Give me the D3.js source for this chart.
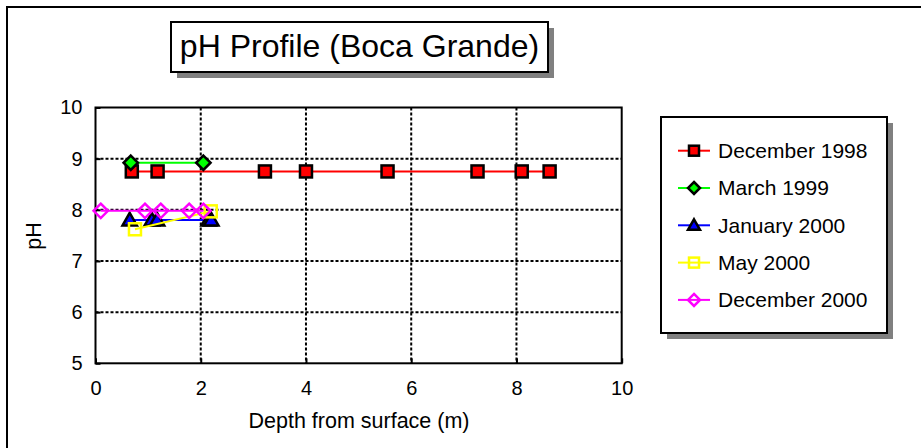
<!DOCTYPE html>
<html>
<head>
<meta charset="utf-8">
<script src="https://cdn.jsdelivr.net/npm/d3@7"></script>
<style>
  body { margin: 0; background: #fff; }
  svg { display: block; font-family: "Liberation Sans", Arial, sans-serif; }
</style>
</head>
<body>
<div id="chart"></div>
<script>
// series values (depth in m, pH)
const seriesNames = ["December 1998", "March 1999", "January 2000", "May 2000", "December 2000"];
const dec1998Depth = [0.69, 1.18, 3.22, 4.0, 5.55, 7.26, 8.1, 8.63];
const dec1998PH    = [8.75, 8.75, 8.75, 8.75, 8.75, 8.75, 8.75, 8.75];
const mar1999Depth = [0.67, 2.05];
const mar1999PH    = [8.92, 8.92];
const jan2000Depth = [0.65, 1.07, 1.17, 2.15, 2.2];
const jan2000PH    = [7.8, 7.8, 7.8, 7.8, 7.8];
const may2000Depth = [0.75, 2.19];
const may2000PH    = [7.62, 7.97];
const dec2000Depth = [0.1, 0.94, 1.24, 1.78, 2.05];
const dec2000PH    = [7.98, 7.98, 7.98, 7.98, 7.98];
const xTicks = [0, 2, 4, 6, 8, 10];
const yTicks = [5, 6, 7, 8, 9, 10];

const config = { width: 921, height: 448, left: 95.5, right: 621.7, top: 107.5, bottom: 363.3 };
const font = "Liberation Sans, Arial, sans-serif";

const seriesStyle = [
  { color: "#ff0000", shape: "square",   filled: true },
  { color: "#00ff00", shape: "diamond",  filled: true },
  { color: "#0000ff", shape: "triangle", filled: true },
  { color: "#ffff00", shape: "square",   filled: false },
  { color: "#ff00ff", shape: "diamond",  filled: false }
];

const allDepth = [dec1998Depth, mar1999Depth, jan2000Depth, may2000Depth, dec2000Depth];
const allPH = [dec1998PH, mar1999PH, jan2000PH, may2000PH, dec2000PH];
const series = seriesNames.map((name, i) => ({
  name: name,
  style: seriesStyle[i],
  points: allDepth[i].map((d, j) => ({ depth: d, ph: allPH[i][j] }))
}));

const svg = d3.select("#chart")
  .append("svg")
  .attr("width", config.width)
  .attr("height", config.height);

// outer chart border (runs off the right and bottom edges)
svg.append("rect")
  .attr("x", 7).attr("y", 7)
  .attr("width", 930).attr("height", 460)
  .attr("fill", "#fff")
  .attr("stroke", "#000")
  .attr("stroke-width", 2);

const xScale = d3.scaleLinear().domain([0, 10]).range([config.left, config.right]);
const yScale = d3.scaleLinear().domain([5, 10]).range([config.bottom, config.top]);

// dotted gridlines
const grid = svg.append("g")
  .attr("stroke", "#000")
  .attr("stroke-width", 2)
  .attr("stroke-dasharray", "3,2");

grid.selectAll(".hgrid")
  .data(yTicks.filter(d => d > 5 && d < 10))
  .join("line")
  .attr("x1", config.left).attr("x2", config.right)
  .attr("y1", d => yScale(d)).attr("y2", d => yScale(d));

grid.selectAll(".vgrid")
  .data(xTicks.filter(d => d > 0 && d < 10))
  .join("line")
  .attr("x1", d => xScale(d)).attr("x2", d => xScale(d))
  .attr("y1", config.top).attr("y2", config.bottom);

// plot frame
svg.append("rect")
  .attr("x", config.left).attr("y", config.top)
  .attr("width", config.right - config.left)
  .attr("height", config.bottom - config.top)
  .attr("fill", "none")
  .attr("stroke", "#000")
  .attr("stroke-width", 2);

// axes
const xAxis = d3.axisBottom(xScale).tickValues(xTicks).tickFormat(d3.format("d"))
  .tickSize(-5).tickPadding(18).tickSizeOuter(0);
const yAxis = d3.axisLeft(yScale).tickValues(yTicks).tickFormat(d3.format("d"))
  .tickSize(-5).tickPadding(13).tickSizeOuter(0);

const gx = svg.append("g")
  .attr("transform", `translate(0,${config.bottom})`)
  .call(xAxis);
const gy = svg.append("g")
  .attr("transform", `translate(${config.left},0)`)
  .call(yAxis);

[gx, gy].forEach(g => {
  g.select(".domain").remove();
  g.selectAll(".tick line").attr("stroke", "#000").attr("stroke-width", 2);
  g.selectAll(".tick text")
    .attr("fill", "#000")
    .style("font-family", font)
    .style("font-size", "20px");
});

// axis titles
svg.append("text")
  .attr("x", 359)
  .attr("y", 428)
  .attr("text-anchor", "middle")
  .style("font-size", "21.5px")
  .text("Depth from surface (m)");

svg.append("text")
  .attr("transform", "translate(41,236) rotate(-90)")
  .attr("text-anchor", "middle")
  .style("font-size", "21.5px")
  .text("pH");

// markers
function drawMarker(g, style, size) {
  const s = size;
  let m;
  if (style.shape === "square") {
    m = g.append("rect").attr("x", -s / 2).attr("y", -s / 2).attr("width", s).attr("height", s);
  } else if (style.shape === "diamond") {
    m = g.append("path").attr("d", `M0,${-s * 0.6}L${s * 0.6},0L0,${s * 0.6}L${-s * 0.6},0Z`);
  } else {
    m = g.append("path").attr("d", `M0,${-s * 0.6}L${s * 0.6},${s * 0.45}L${-s * 0.6},${s * 0.45}Z`);
  }
  if (style.filled) {
    m.attr("fill", style.color).attr("stroke", "#000").attr("stroke-width", 2.5);
  } else {
    m.attr("fill", "none").attr("stroke", style.color).attr("stroke-width", 2.5);
  }
}

const line = d3.line()
  .x(d => xScale(d.depth))
  .y(d => yScale(d.ph));

series.forEach(s => {
  const g = svg.append("g");
  g.append("path")
    .datum(s.points)
    .attr("d", line)
    .attr("fill", "none")
    .attr("stroke", s.style.color)
    .attr("stroke-width", 2);
  g.selectAll(".pt")
    .data(s.points)
    .join("g")
    .attr("transform", d => `translate(${xScale(d.depth)},${yScale(d.ph)})`)
    .each(function () { drawMarker(d3.select(this), s.style, 12); });
});

// title box
const titleBox = { x: 171, y: 22, w: 377, h: 50 };
svg.append("rect")
  .attr("x", titleBox.x + 6).attr("y", titleBox.y + 6)
  .attr("width", titleBox.w).attr("height", titleBox.h)
  .attr("fill", "#808080");
svg.append("rect")
  .attr("x", titleBox.x).attr("y", titleBox.y)
  .attr("width", titleBox.w).attr("height", titleBox.h)
  .attr("fill", "#fff").attr("stroke", "#000").attr("stroke-width", 2);
svg.append("text")
  .attr("x", titleBox.x + titleBox.w / 2)
  .attr("y", 57)
  .attr("text-anchor", "middle")
  .style("font-size", "32px")
  .text("pH Profile (Boca Grande)");

// legend
const legendBox = { x: 661, y: 117, w: 226, h: 216 };
svg.append("rect")
  .attr("x", legendBox.x + 6).attr("y", legendBox.y + 6)
  .attr("width", legendBox.w).attr("height", legendBox.h)
  .attr("fill", "#808080");
svg.append("rect")
  .attr("x", legendBox.x).attr("y", legendBox.y)
  .attr("width", legendBox.w).attr("height", legendBox.h)
  .attr("fill", "#fff").attr("stroke", "#000").attr("stroke-width", 2);

const legend = svg.selectAll(".legend")
  .data(series)
  .join("g")
  .attr("transform", (d, i) => `translate(694,${150.7 + i * 37.3})`);

legend.append("line")
  .attr("x1", -16).attr("x2", 16)
  .attr("stroke", d => d.style.color)
  .attr("stroke-width", 2);
legend.each(function (d) { drawMarker(d3.select(this), d.style, 10); });
legend.append("text")
  .attr("x", 24)
  .attr("dy", "0.35em")
  .style("font-size", "21px")
  .text(d => d.name);
</script>
</body>
</html>
